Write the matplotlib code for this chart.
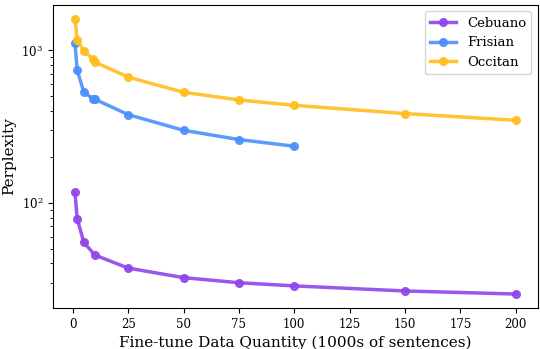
import matplotlib
matplotlib.use("Agg")
import matplotlib.pyplot as plt

plt.rcParams['font.family'] = ['DejaVu Serif']
plt.rcParams['mathtext.fontset'] = 'dejavuserif'

# fine-tune data quantity (1000s of sentences)
cebuano_x = [1, 2, 5, 10, 25, 50, 75, 100, 150, 200]
cebuano_ppl = [117, 78.5, 55, 45.4, 37.3, 32.3, 29.9, 28.5, 26.4, 25.2]

frisian_x = [1, 2, 5, 9, 10, 25, 50, 75, 100]
frisian_ppl = [1123, 740, 534, 483, 478, 379, 299, 260, 235]

occitan_x = [1, 2, 5, 9, 10, 25, 50, 75, 100, 150, 200]
occitan_ppl = [1615, 1175, 990, 883, 838, 668, 531, 473, 436, 385, 348]

fig, ax = plt.subplots(figsize=(5.4, 3.49), dpi=100)
fig.subplots_adjust(left=0.098, right=0.996, top=0.986, bottom=0.118)

ax.plot(cebuano_x, cebuano_ppl, marker='o', color='#8f45ea', lw=2.5, ms=5.5, alpha=0.9, label='Cebuano')
ax.plot(frisian_x, frisian_ppl, marker='o', color='#4b90fa', lw=2.5, ms=5.5, alpha=0.9, label='Frisian')
ax.plot(occitan_x, occitan_ppl, marker='o', color='#ffbd1e', lw=2.5, ms=5.5, alpha=0.9, label='Occitan')

ax.set_yscale('log')
ax.set_xlabel('Fine-tune Data Quantity (1000s of sentences)', fontsize=11)
ax.set_ylabel('Perplexity', fontsize=11)
ax.tick_params(labelsize=8.5)
ax.legend(fontsize=9.5, loc='upper right')

fig.savefig('out.png', dpi=100)
